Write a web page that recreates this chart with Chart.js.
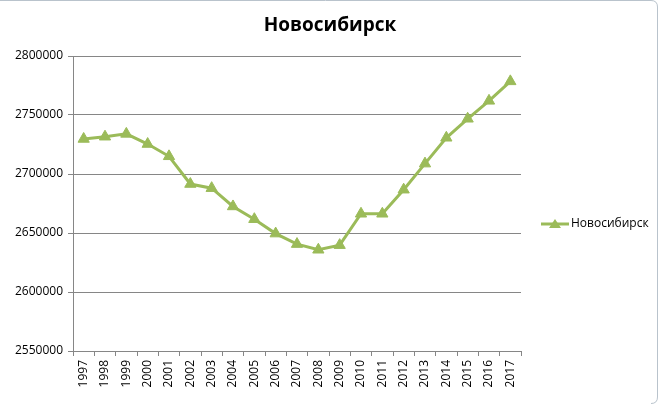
<!DOCTYPE html>
<html>
<head>
<meta charset="utf-8">
<script src="https://cdn.jsdelivr.net/npm/chart.js@4/dist/chart.umd.min.js"></script>
<style>
html,body{margin:0;padding:0;background:#fff;}
#wrap{position:relative;width:660px;height:404px;}
</style>
</head>
<body>
<div id="wrap"><canvas id="c" width="660" height="404"></canvas></div>
<script>
const chartTitle = "Новосибирск";
const seriesName = "Новосибирск";
const years = ["1997","1998","1999","2000","2001","2002","2003","2004","2005","2006","2007","2008","2009","2010","2011","2012","2013","2014","2015","2016","2017"];
const population = [2729700,2731600,2734000,2725400,2715000,2691500,2688000,2672500,2661700,2649500,2640600,2635800,2639700,2666300,2666300,2686700,2708800,2730700,2746800,2762000,2778500];
const yMin = 2550000, yMax = 2800000, yStep = 50000;

const FONT = "'Open Sans', 'Noto Sans', sans-serif";
const GREEN = "#9BBB59";
const GRID = "#868686";

const decorPlugin = {
  id: 'decor',
  afterDraw(chart) {
    const ctx = chart.ctx;
    ctx.save();
    ctx.strokeStyle = "#b9c3cc";
    ctx.lineWidth = 1;
    ctx.beginPath();
    ctx.moveTo(0, 0.5); ctx.lineTo(651, 0.5);
    ctx.quadraticCurveTo(657.5, 0.5, 657.5, 7);
    ctx.lineTo(657.5, 397);
    ctx.quadraticCurveTo(657.5, 403.5, 651, 403.5);
    ctx.stroke();
    ctx.fillStyle = "#000";
    ctx.font = "bold 19px " + FONT;
    ctx.textAlign = "center";
    ctx.textBaseline = "middle";
    ctx.fillText(chartTitle, 330, 26);
    const ly = 224;
    ctx.strokeStyle = GREEN;
    ctx.lineWidth = 3;
    ctx.beginPath(); ctx.moveTo(541, ly); ctx.lineTo(569, ly); ctx.stroke();
    ctx.fillStyle = GREEN;
    ctx.beginPath();
    ctx.moveTo(555, ly - 5); ctx.lineTo(561, ly + 4); ctx.lineTo(549, ly + 4); ctx.closePath(); ctx.fill();
    ctx.fillStyle = "#000";
    ctx.font = "12px " + FONT;
    ctx.textAlign = "left";
    ctx.fillText(seriesName, 571, ly);
    ctx.restore();
  }
};

new Chart(document.getElementById('c'), {
  type: 'line',
  data: {
    labels: years,
    datasets: [{
      label: seriesName,
      data: population,
      borderColor: GREEN,
      backgroundColor: GREEN,
      borderWidth: 3,
      pointStyle: 'triangle',
      pointRadius: 6.5,
      pointHoverRadius: 6.5,
      pointBackgroundColor: GREEN,
      pointBorderColor: GREEN,
      pointBorderWidth: 1,
      tension: 0
    }]
  },
  options: {
    responsive: false,
    animation: false,
    events: [],
    layout: { padding: { left: 0, right: 139, top: 56, bottom: 0 } },
    plugins: { legend: { display: false }, title: { display: false }, tooltip: { enabled: false } },
    scales: {
      x: {
        offset: true,
        grid: { offset: true, drawOnChartArea: false, drawTicks: true, tickLength: 5, color: GRID, tickColor: GRID },
        border: { color: GRID, width: 1 },
        ticks: { color: "#000", font: { family: FONT, size: 12 }, minRotation: 90, maxRotation: 90, autoSkip: false, padding: 4 },
        afterFit(s) { s.height = 53; }
      },
      y: {
        min: yMin, max: yMax,
        grid: { color: GRID, tickLength: 5, tickColor: GRID, lineWidth: 1 },
        border: { color: GRID, width: 1 },
        ticks: { stepSize: yStep, color: "#000", font: { family: FONT, size: 12 }, padding: 5, callback: v => String(v) },
        afterFit(s) { s.width = 73; }
      }
    }
  },
  plugins: [decorPlugin]
});
</script>
</body>
</html>
